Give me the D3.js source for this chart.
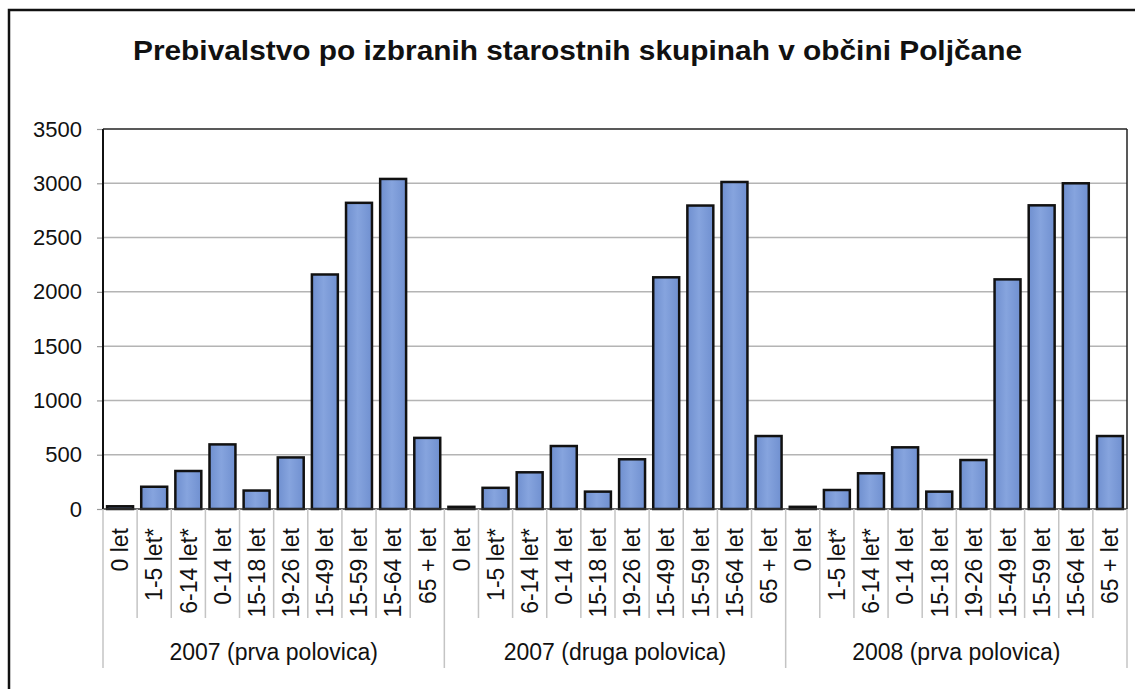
<!DOCTYPE html>
<html><head><meta charset="utf-8">
<script src="https://cdn.jsdelivr.net/npm/d3@7"></script>
<style>body{margin:0;background:#fff}svg{display:block}</style>
</head><body>
<script>
const title = "Prebivalstvo po izbranih starostnih skupinah v občini Poljčane";
const categories = ["0 let","1-5 let*","6-14 let*","0-14 let","15-18 let","19-26 let","15-49 let","15-59 let","15-64 let","65 + let"];
const groups = ["2007 (prva polovica)","2007 (druga polovica)","2008 (prva polovica)"];
const values2007a = [25, 205, 350, 595, 170, 475, 2160, 2820, 3040, 655];
const values2007b = [20, 195, 338, 580, 160, 458, 2134, 2795, 3012, 672];
const values2008a = [20, 175, 329, 568, 160, 451, 2115, 2797, 3000, 672];
const yTicks = [0,500,1000,1500,2000,2500,3000,3500];
const seriesByGroup = [values2007a, values2007b, values2008a];

const W = 1135, H = 689;
const L = 103, R = 1127, T = 129, B = 509;
const font = "'Liberation Sans', Arial, sans-serif";

const rows = [];
groups.forEach((g, gi) => categories.forEach((c, ci) => rows.push({key: gi + "|" + ci, group: g, gi, cat: c, ci, value: seriesByGroup[gi][ci]})));

const svg = d3.select("body").append("svg").attr("width", W).attr("height", H);
const defs = svg.append("defs");
const grad = defs.append("linearGradient").attr("id", "barGrad").attr("x1", "0").attr("x2", "1").attr("y1", "0").attr("y2", "0");
grad.append("stop").attr("offset", "0%").attr("stop-color", "#6f8fcf");
grad.append("stop").attr("offset", "45%").attr("stop-color", "#86a4de");
grad.append("stop").attr("offset", "100%").attr("stop-color", "#7090d0");
defs.append("clipPath").attr("id", "labClip").append("rect").attr("x", L).attr("y", B + 2).attr("width", R - L).attr("height", 618 - B - 2);

// outer frame
svg.append("rect").attr("x", 9).attr("y", 10).attr("width", W + 20).attr("height", H + 20)
  .attr("fill", "none").attr("stroke", "#111").attr("stroke-width", 2.5);

// title
svg.append("text").attr("x", (133 + 1022) / 2).attr("y", 60).attr("text-anchor", "middle")
  .attr("font-family", font).attr("font-weight", "bold").attr("font-size", 28).attr("fill", "#111")
  .attr("textLength", 889).attr("lengthAdjust", "spacingAndGlyphs")
  .text(title);

const x = d3.scaleBand().domain(rows.map(d => d.key)).range([L, R]).paddingInner(0.24).paddingOuter(0.12);
const y = d3.scaleLinear().domain([0, 3500]).range([B, T]);

// gridlines
svg.append("g").selectAll("line").data(yTicks.filter(v => v > 0 && v < 3500)).join("line")
  .attr("x1", L).attr("x2", R).attr("y1", d => y(d)).attr("y2", d => y(d))
  .attr("stroke", "#b4b4b4").attr("stroke-width", 1.5);

// y axis
const yAxis = svg.append("g").attr("transform", `translate(${L},0)`)
  .call(d3.axisLeft(y).tickValues(yTicks).tickSize(6).tickPadding(15).tickFormat(d3.format("d")));
yAxis.select(".domain").remove();
yAxis.selectAll(".tick line").attr("stroke", "#999").attr("stroke-width", 1.2);
yAxis.selectAll(".tick text").attr("font-family", font).attr("font-size", 22).attr("fill", "#111");

// plot border
svg.append("line").attr("x1", L).attr("x2", L).attr("y1", T).attr("y2", B).attr("stroke", "#111").attr("stroke-width", 2);
svg.append("line").attr("x1", L).attr("x2", R).attr("y1", T).attr("y2", T).attr("stroke", "#222").attr("stroke-width", 1.5);
svg.append("line").attr("x1", R).attr("x2", R).attr("y1", T).attr("y2", B).attr("stroke", "#222").attr("stroke-width", 1.5);

// bars
svg.append("g").selectAll("rect").data(rows).join("rect")
  .attr("x", d => x(d.key)).attr("width", x.bandwidth())
  .attr("y", d => y(d.value)).attr("height", d => B - y(d.value))
  .attr("fill", "url(#barGrad)").attr("stroke", "#111").attr("stroke-width", 2.5);

// baseline
svg.append("line").attr("x1", L).attr("x2", R).attr("y1", B).attr("y2", B).attr("stroke", "#333").attr("stroke-width", 1.5);

// category separators
const bounds = d3.range(rows.length + 1).map(i => L + i * (R - L) / rows.length);
svg.append("g").selectAll("line").data(bounds).join("line")
  .attr("x1", d => d).attr("x2", d => d).attr("y1", B)
  .attr("y2", (d, i) => i % categories.length === 0 ? 668 : 618)
  .attr("stroke", "#c4c4c4").attr("stroke-width", 1.5);

// rotated category labels
svg.append("g").attr("clip-path", "url(#labClip)").selectAll("text").data(rows).join("text")
  .attr("transform", d => `translate(${x(d.key) + x.bandwidth() / 2},${528}) rotate(-90)`)
  .attr("text-anchor", "end").attr("dy", "0.36em")
  .attr("font-family", font).attr("font-size", 23).attr("fill", "#111")
  .text(d => d.cat);

// group labels
svg.append("g").selectAll("text").data(groups).join("text")
  .attr("x", (d, i) => (bounds[i * categories.length] + bounds[(i + 1) * categories.length]) / 2)
  .attr("y", 660).attr("text-anchor", "middle")
  .attr("font-family", font).attr("font-size", 23).attr("fill", "#111")
  .text(d => d);
</script>
</body></html>
